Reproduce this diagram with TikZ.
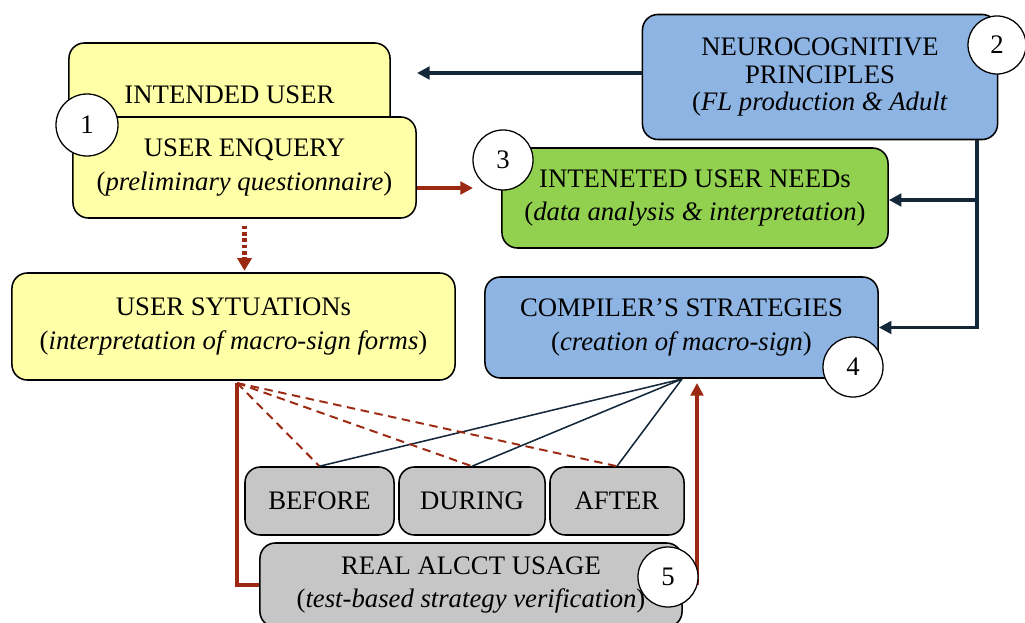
\documentclass[tikz,border=0pt]{standalone}
\usepackage{fontspec}
\setmainfont{Liberation Serif}
\usetikzlibrary{positioning,arrows.meta,calc}
\definecolor{paleyellow}{HTML}{FFFFA8}
\definecolor{skyblue}{HTML}{8DB4E2}
\definecolor{leafgreen}{HTML}{92D050}
\definecolor{ashgray}{HTML}{C6C6C6}
\definecolor{navyink}{HTML}{14283A}
\definecolor{rust}{HTML}{9C2A12}

\tikzset{
  box/.style={draw=black,line width=1.1pt,rounded corners=11pt,align=center,inner sep=0pt,
    font=\fontsize{19}{24}\selectfont},
  num/.style={circle,draw=black,fill=white,line width=.9pt,minimum size=1.5cm,inner sep=0pt,
    font=\fontsize{19}{21}\selectfont},
  navyarrow/.style={draw=navyink,line width=2.6pt,-{Triangle[length=9pt,width=9pt]}},
  navythin/.style={draw=navyink,line width=1.1pt},
  rustarrow/.style={draw=rust,line width=2.6pt,-{Triangle[length=9pt,width=9pt]}},
  rustdot/.style={draw=rust,line width=3pt,dash pattern=on 2.5pt off 2pt,-{Triangle[length=9pt,width=10pt]}},
  rustline/.style={draw=rust,line width=2.4pt},
  rustdash/.style={draw=rust,line width=1.4pt,dash pattern=on 6pt off 4pt}
}

\begin{document}
\begin{tikzpicture}[x=0.025cm,y=-0.025cm]
\useasboundingbox (0,0) rectangle (1025,623);

\node[box,fill=paleyellow,minimum width=8.025cm,minimum height=2.6cm] (intended) at (229.5,95) {INTENDED USER};
\node[box,fill=paleyellow,minimum width=8.575cm,minimum height=2.525cm] (enquery) at (244.5,167.5)
  {USER ENQUERY\\(\textit{preliminary questionnaire})};
\node[num,minimum size=1.55cm] (n1) at (87,125) {1};

\node[box,fill=skyblue,minimum width=8.875cm,minimum height=3.125cm,
  font=\fontsize{19}{19.5}\selectfont] (neuro) at (820,77)
  {NEUROCOGNITIVE\\PRINCIPLES\\(\textit{FL production \& Adult}};
\node[num,minimum size=1.45cm] (n2) at (997,45) {2};

\node[box,fill=leafgreen,minimum width=9.65cm,minimum height=2.5cm] (needs) at (695,198)
  {INTENETED USER NEEDs\\(\textit{data analysis \& interpretation})};
\node[num] (n3) at (503,160) {3};

\node[box,fill=paleyellow,minimum width=11.075cm,minimum height=2.675cm] (situations) at (233.5,326.5)
  {USER SYTUATIONs\\(\textit{interpretation of macro-sign forms})};

\node[box,fill=skyblue,minimum width=9.825cm,minimum height=2.525cm] (compiler) at (681.5,327.5)
  {COMPILER'S STRATEGIES\\(\textit{creation of macro-sign})};
\node[num] (n4) at (853,367) {4};

\node[box,fill=ashgray,minimum width=3.725cm,minimum height=1.7cm] (before) at (319.5,501) {BEFORE};
\node[box,fill=ashgray,minimum width=3.65cm,minimum height=1.7cm] (during) at (472,501) {DURING};
\node[box,fill=ashgray,minimum width=3.35cm,minimum height=1.7cm] (after) at (617,501) {AFTER};

\node[box,fill=ashgray,minimum width=10.55cm,minimum height=2.1cm] (real) at (471,585)
  {REAL ALCCT USAGE\\(\textit{test-based strategy verification})};

\coordinate (tip1) at (417,73);
\coordinate (tip3) at (473,188);
\coordinate (split) at (977,200);
\coordinate (hub) at (237,383);
\coordinate (fork) at (682,379);

\draw[navyarrow] (neuro.west |- tip1) -- (tip1);
\draw[navyarrow] (neuro.south -| split) |- (compiler.east);
\draw[navyarrow] (split) -- (split -| needs.east);
\draw[rustarrow] (enquery.east |- tip3) -- (tip3);
\draw[rustdot,shorten <=5pt,shorten >=1pt] (enquery.south) -- (enquery.south |- situations.north);
\draw[rustline] (hub) |- (real.west);
\foreach \b in {before,during,after}{
  \draw[rustdash] (hub) -- (\b.north);
  \draw[navythin] (fork) -- (\b.north);
}
\draw[rustarrow,shorten >=3pt] (real.east -| 697,0) -- (697,0 |- compiler.south);
\node[num] (n5) at (668,577) {5};
\end{tikzpicture}
\end{document}
